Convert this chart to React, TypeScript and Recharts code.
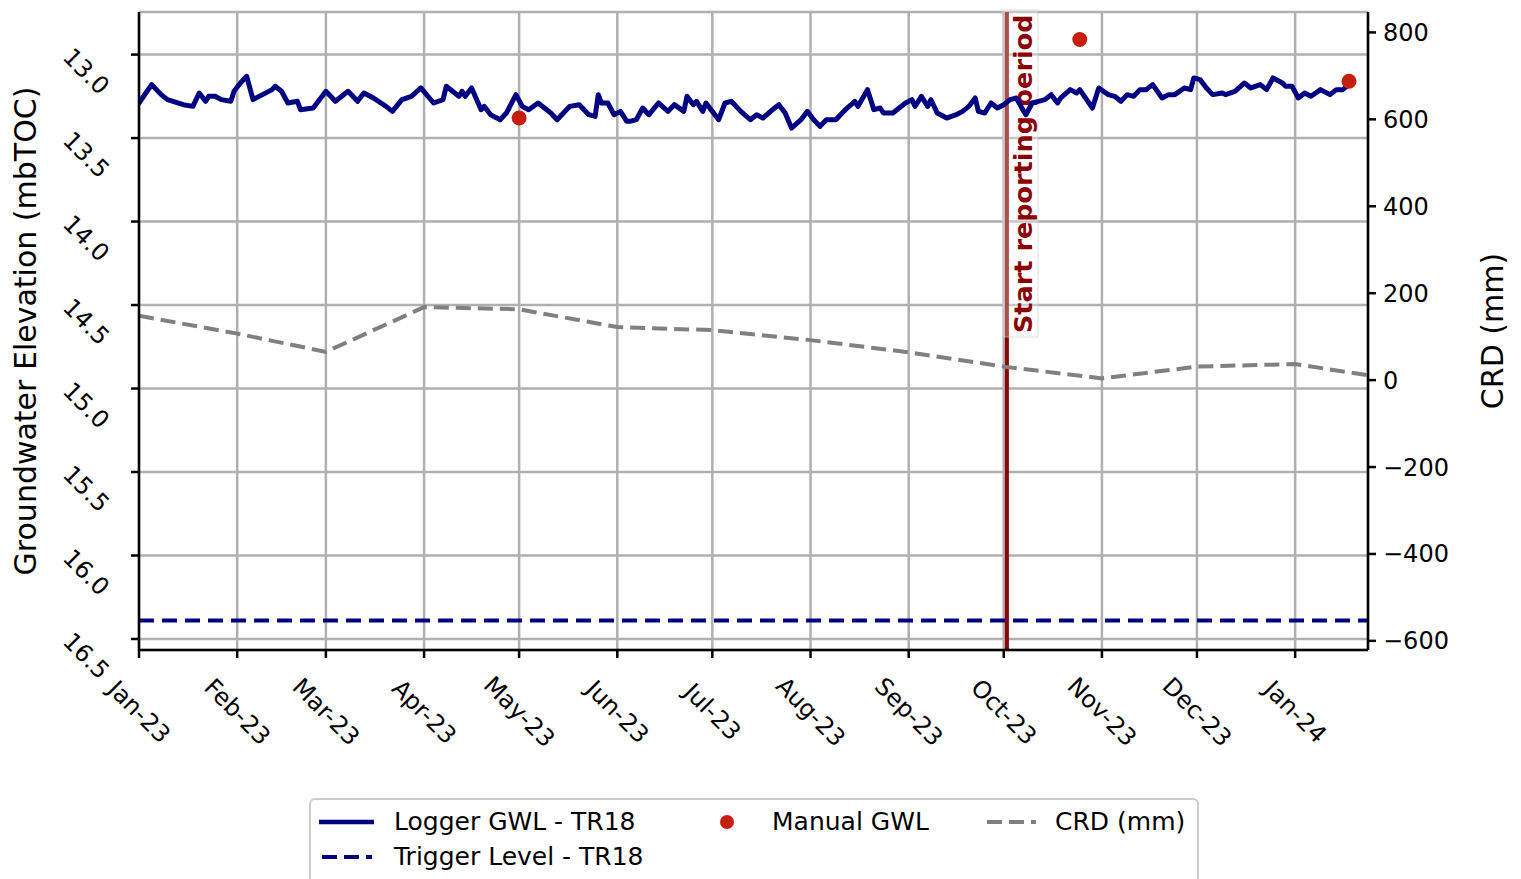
import { ComposedChart, Line, Scatter, XAxis, YAxis, CartesianGrid, ReferenceLine } from 'recharts'

// days since 2023-01-01
const loggerDay = [
  0, 4, 7, 9, 14, 17, 19, 21, 22, 24,
  26, 29, 30, 32, 34, 36, 39, 42, 43, 45,
  47, 50, 51, 55, 59, 62, 66, 69, 71, 74,
  78, 80, 83, 86, 89, 93, 96, 97, 101, 102,
  103, 105, 108, 109, 111, 114, 116, 119, 121, 123,
  126, 130, 132, 136, 139, 142, 144, 145, 146, 148,
  150, 152, 154, 155, 157, 159, 161, 164, 167, 169,
  172, 173, 175, 176, 178, 179, 183, 185, 187, 190,
  193, 195, 197, 200, 202, 204, 206, 209, 211, 213,
  215, 217, 220, 223, 226, 227, 230, 232, 234, 235,
  238, 242, 244, 245, 247, 249, 250, 252, 255, 258,
  260, 262, 264, 265, 267, 269, 271, 273, 275, 277,
  279, 280, 282, 284, 286, 288, 290, 291, 294, 296,
  297, 301, 303, 306, 308, 310, 312, 314, 316, 318,
  320, 323, 325, 327, 330, 332, 333, 335, 337, 339,
  342, 343, 346, 349, 351, 354, 356, 358, 361, 362,
  364, 366, 368, 370, 373, 376, 378, 380, 382,
]
const loggerGwl = [
  13.29, 13.18, 13.24, 13.27, 13.30, 13.31, 13.23, 13.28, 13.25, 13.25,
  13.27, 13.28, 13.22, 13.17, 13.13, 13.27, 13.24, 13.21, 13.19, 13.22,
  13.29, 13.28, 13.33, 13.32, 13.22, 13.28, 13.22, 13.28, 13.23, 13.26,
  13.31, 13.34, 13.27, 13.25, 13.20, 13.29, 13.27, 13.19, 13.25, 13.22,
  13.25, 13.20, 13.33, 13.31, 13.36, 13.39, 13.35, 13.24, 13.31, 13.33,
  13.29, 13.35, 13.39, 13.31, 13.30, 13.36, 13.37, 13.24, 13.29, 13.29,
  13.36, 13.34, 13.40, 13.40, 13.39, 13.32, 13.36, 13.29, 13.34, 13.30,
  13.34, 13.25, 13.30, 13.28, 13.34, 13.29, 13.39, 13.29, 13.28, 13.34,
  13.39, 13.36, 13.38, 13.33, 13.30, 13.35, 13.44, 13.39, 13.34, 13.39,
  13.43, 13.39, 13.39, 13.33, 13.28, 13.31, 13.21, 13.33, 13.32, 13.35,
  13.35, 13.29, 13.27, 13.31, 13.25, 13.31, 13.27, 13.35, 13.38, 13.36,
  13.34, 13.31, 13.26, 13.34, 13.35, 13.29, 13.32, 13.30, 13.27, 13.26,
  13.33, 13.36, 13.29, 13.28, 13.27, 13.24, 13.29, 13.26, 13.21, 13.23,
  13.21, 13.32, 13.20, 13.24, 13.25, 13.28, 13.24, 13.25, 13.21, 13.21,
  13.18, 13.26, 13.24, 13.24, 13.20, 13.21, 13.14, 13.15, 13.20, 13.24,
  13.23, 13.24, 13.22, 13.17, 13.20, 13.18, 13.21, 13.14, 13.17, 13.19,
  13.19, 13.26, 13.23, 13.25, 13.21, 13.24, 13.21, 13.21, 13.18,
]

const manualDates = ['2023-05-01', '2023-10-25', '2024-01-18']
const manualGwl = [13.38, 12.91, 13.16]

const crdDates = [
  '2023-01-01', '2023-02-01', '2023-03-01', '2023-04-01', '2023-05-01', '2023-06-01', '2023-07-01',
  '2023-08-01', '2023-09-01', '2023-10-01', '2023-11-01', '2023-12-01', '2024-01-01', '2024-01-24',
]
const crdMm = [148, 107, 65, 168, 163, 122, 115, 92, 64, 31, 4, 31, 37, 11]

const triggerLevel = 16.39
const reportStart = '2023-10-02'

const monthTicks = [
  '2023-01-01', '2023-02-01', '2023-03-01', '2023-04-01', '2023-05-01', '2023-06-01', '2023-07-01',
  '2023-08-01', '2023-09-01', '2023-10-01', '2023-11-01', '2023-12-01', '2024-01-01',
]
const monthLabels = ['Jan-23', 'Feb-23', 'Mar-23', 'Apr-23', 'May-23', 'Jun-23', 'Jul-23', 'Aug-23', 'Sep-23', 'Oct-23', 'Nov-23', 'Dec-23', 'Jan-24']
const gwlTicks = [13.0, 13.5, 14.0, 14.5, 15.0, 15.5, 16.0, 16.5]
const crdTicks = [-600, -400, -200, 0, 200, 400, 600, 800]

const dayOf = (iso: string) => {
  const [y, m, d] = iso.split('-').map(Number)
  return Math.round((Date.UTC(y, m - 1, d) - Date.UTC(2023, 0, 1)) / 86400000)
}

const loggerData = loggerDay.map((day, i) => ({ day, gwl: loggerGwl[i] }))
const manualData = manualDates.map((d, i) => ({ day: dayOf(d), gwl: manualGwl[i] }))
const crdData = crdDates.map((d, i) => ({ day: dayOf(d), crd: crdMm[i] }))
const xTicks = monthTicks.map(dayOf)

const FONT = '"DejaVu Sans", sans-serif'
const NAVY = '#000080'
const RED = '#c81e0f'
const DARKRED = '#8b0000'
const GREY = '#808080'

function XTick({ x, y, payload }: any) {
  const i = xTicks.indexOf(payload.value)
  return (
    <text transform={`translate(${x},${y + 54}) rotate(45)`} textAnchor="middle" dominantBaseline="central"
      fontSize={24} fill="#000" fontFamily={FONT}>
      {monthLabels[i]}
    </text>
  )
}

function GwlTick({ x, y, payload }: any) {
  return (
    <text transform={`translate(${x - 45},${y + 17}) rotate(45)`} textAnchor="middle" dominantBaseline="central"
      fontSize={24} fill="#000" fontFamily={FONT}>
      {payload.value.toFixed(1)}
    </text>
  )
}

function AxisTitle({ viewBox, dx, text }: any) {
  const cx = viewBox.x + dx
  const cy = viewBox.y + viewBox.height / 2
  return (
    <text transform={`translate(${cx},${cy}) rotate(-90)`} textAnchor="middle" dominantBaseline="central"
      fontSize={30} fill="#000" fontFamily={FONT}>
      {text}
    </text>
  )
}

function StartLabel({ viewBox }: any) {
  const lx = viewBox.x
  return (
    <g>
      <rect x={lx - 4} y={2} width={35} height={327} fill="#fff" fillOpacity={0.3} stroke="#ccc" strokeOpacity={0.6} />
      <text transform={`translate(${lx + 25},${325}) rotate(-90)`} textAnchor="start"
        fontSize={25.5} fontWeight="bold" fill={DARKRED} fontFamily={FONT}>
        Start reporting period
      </text>
    </g>
  )
}

function LegendBox() {
  const txt = { position: 'absolute' as const, fontSize: 25, lineHeight: '30px', whiteSpace: 'nowrap' as const }
  return (
    <div style={{
      position: 'absolute', left: 301, top: 790, width: 886, height: 100,
      border: '2px solid #cccccc', borderRadius: 6, background: '#fff', fontFamily: FONT, color: '#000',
    }}>
      <svg width={886} height={100} style={{ position: 'absolute', left: 0, top: 0 }}>
        <line x1={8} x2={63} y1={22} y2={22} stroke={NAVY} strokeWidth={4.5} />
        <circle cx={416} cy={22} r={7} fill={RED} />
        <line x1={676} x2={725} y1={22} y2={22} stroke={GREY} strokeWidth={4} strokeDasharray="15 7" />
        <line x1={11} x2={61} y1={57} y2={57} stroke={NAVY} strokeWidth={4} strokeDasharray="15 7" />
      </svg>
      <span style={{ ...txt, left: 83, top: 7 }}>Logger GWL - TR18</span>
      <span style={{ ...txt, left: 461, top: 7 }}>Manual GWL</span>
      <span style={{ ...txt, left: 744, top: 7 }}>CRD (mm)</span>
      <span style={{ ...txt, left: 83, top: 42 }}>Trigger Level - TR18</span>
    </div>
  )
}

export default function App() {
  return (
    <div style={{ position: 'relative', width: 1505, height: 871, fontFamily: FONT }}>
      <ComposedChart width={1505} height={871} margin={{ top: 4, right: 0, bottom: 109, left: 0 }}>
        <CartesianGrid stroke="#b0b0b0" strokeWidth={2.5} yAxisId="gwl" />
        <XAxis dataKey="day" type="number" domain={[0, 388]} ticks={xTicks} allowDataOverflow
          height={120} interval={0} tick={<XTick />} tickSize={8} tickMargin={0}
          tickLine={{ stroke: '#000', strokeWidth: 2.5 }} axisLine={{ stroke: '#000', strokeWidth: 2.5 }} />
        <XAxis xAxisId="top" orientation="top" dataKey="day" type="number" domain={[0, 388]} allowDataOverflow
          height={0} tick={false} tickLine={false} axisLine={{ stroke: '#000', strokeWidth: 2.5 }} />
        <YAxis yAxisId="gwl" dataKey="gwl" type="number" reversed domain={[12.745, 16.566]} ticks={gwlTicks}
          allowDataOverflow width={131} interval={0} tick={<GwlTick />} tickSize={8} tickMargin={0}
          tickLine={{ stroke: '#000', strokeWidth: 2.5 }} axisLine={{ stroke: '#000', strokeWidth: 2.5 }}
          label={<AxisTitle dx={17} text="Groundwater Elevation (mbTOC)" />} />
        <YAxis yAxisId="crd" orientation="right" type="number" domain={[-621, 847]} ticks={crdTicks}
          allowDataOverflow width={145} interval={0} tickSize={8} tickMargin={7}
          tick={{ fontSize: 24, fill: '#000', fontFamily: FONT }}
          tickFormatter={(v: number) => String(v).replace('-', '\u2212')}
          tickLine={{ stroke: '#000', strokeWidth: 2.5 }} axisLine={{ stroke: '#000', strokeWidth: 2.5 }}
          label={<AxisTitle dx={124} text="CRD (mm)" />} />
        <ReferenceLine yAxisId="gwl" x={dayOf(reportStart)} stroke={DARKRED} strokeWidth={4}
          label={<StartLabel />} />
        <ReferenceLine yAxisId="gwl" y={triggerLevel} stroke={NAVY} strokeWidth={4} strokeDasharray="15 8" />
        <Line yAxisId="crd" data={crdData} dataKey="crd" type="linear" stroke={GREY} strokeWidth={4}
          strokeDasharray="15 7" dot={false} isAnimationActive={false} />
        <Line yAxisId="gwl" data={loggerData} dataKey="gwl" type="linear" stroke={NAVY} strokeWidth={5}
          strokeLinejoin="round" strokeLinecap="round" dot={false} isAnimationActive={false} />
        <Scatter yAxisId="gwl" data={manualData} dataKey="gwl" fill={RED} isAnimationActive={false}
          shape={(p: any) => <circle cx={p.cx} cy={p.cy} r={7.5} fill={RED} />} />
      </ComposedChart>
      <LegendBox />
    </div>
  )
}
